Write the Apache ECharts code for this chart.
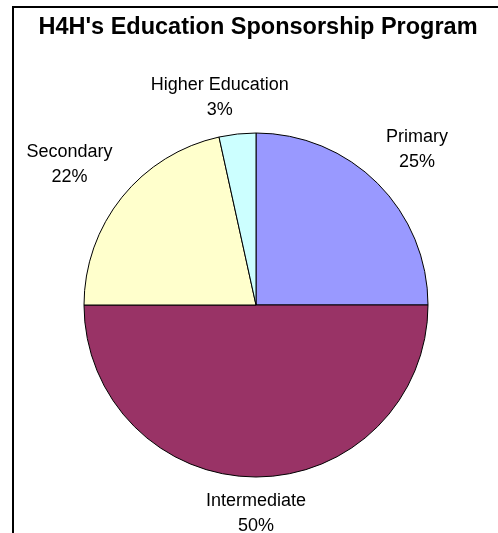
<!DOCTYPE html>
<html>
<head>
<meta charset="utf-8">
<script src="https://cdn.jsdelivr.net/npm/echarts@6/dist/echarts.min.js"></script>
<style>
html,body{margin:0;padding:0;background:#fff;}
#chart{width:498px;height:533px;}
</style>
</head>
<body>
<div id="chart"></div>
<script>
const chartTitle = "H4H's Education Sponsorship Program";
const categories = ['Primary', 'Intermediate', 'Secondary', 'Higher Education'];
const values = [29, 58, 25, 4];
const colors = ['#9999FF', '#993366', '#FFFFCC', '#CCFFFF'];

const CX = 256, CY = 305, R = 172, GAP = 12;
const total = values.reduce((a, b) => a + b, 0);
const mids = [];
let acc = 0;
values.forEach(v => { mids.push((acc + v / 2) / total * 2 * Math.PI); acc += v; });

const chart = echarts.init(document.getElementById('chart'), null, {renderer: 'canvas'});
chart.setOption({
  backgroundColor: '#ffffff',
  animation: false,
  title: {
    text: chartTitle,
    left: 258,
    textAlign: 'center',
    top: 16,
    padding: 0,
    textStyle: {fontFamily: 'Arial', fontWeight: 'bold', fontSize: 23.5, color: '#000'}
  },
  graphic: [{
    type: 'polyline',
    shape: {points: [[13, 533], [13, 7], [498, 7]]},
    style: {stroke: '#000', lineWidth: 2, fill: null},
    silent: true
  }],
  series: [{
    type: 'pie',
    center: [CX, CY],
    radius: R,
    startAngle: 90,
    clockwise: true,
    percentPrecision: 0,
    avoidLabelOverlap: false,
    data: categories.map((c, i) => ({name: c, value: values[i], itemStyle: {color: colors[i]}})),
    itemStyle: {borderColor: '#000', borderWidth: 1},
    label: {
      show: true,
      position: 'outside',
      formatter: '{b}\n{d}%',
      fontFamily: 'Arial',
      fontSize: 18,
      lineHeight: 25,
      color: '#000',
      align: 'center'
    },
    labelLine: {show: false},
    emphasis: {disabled: true},
    labelLayout: function (p) {
      const a = mids[p.dataIndex];
      const s = Math.sin(a), c = Math.cos(a);
      const d = R + GAP;
      const ax = CX + d * s, ay = CY - d * c;
      const w = p.labelRect.width, h = p.labelRect.height;
      const fx = Math.max(-1, Math.min(1, 2.2 * s));
      const fy = Math.max(-1, Math.min(1, -2.2 * c));
      return {x: ax + fx * w / 2, y: ay + fy * h / 2, align: 'center', verticalAlign: 'middle'};
    }
  }]
});
</script>
</body>
</html>
